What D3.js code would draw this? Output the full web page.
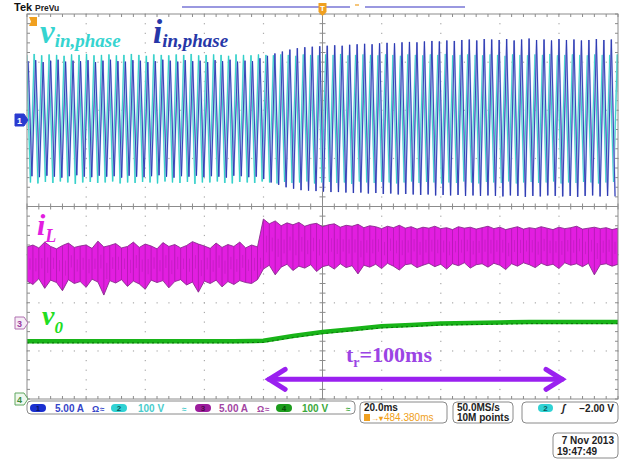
<!DOCTYPE html>
<html><head><meta charset="utf-8">
<script src="https://cdn.jsdelivr.net/npm/d3@7"></script>
<style>html,body{margin:0;padding:0;background:#fff;}svg{display:block;}</style>
</head><body>
<svg id="c" width="628" height="462"></svg>
<script>
// ---------------- data ----------------
// time axis: 20 ms/div, 10 divisions; vertical in divisions (8 divs)
const timeDomain = [-100, 100];
const divDomain = [-4, 4];

// phase voltage / current: one upper and one lower peak per mains cycle (divisions)
const acStart = -99.6;   // ms, first upper peak
const acPeriod = 2.53;   // ms, apparent period on screen
const iInTop = [3.02,3.04,3.00,3.03,3.05,3.01,3.03,3.02,3.04,3.00,3.03,3.05,3.02,3.01,3.04,3.03,3.00,3.02,3.05,3.03,3.01,3.04,3.02,3.03,3.00,3.04,3.02,3.05,3.01,3.03,3.02,
  3.08,3.13,3.18,3.22,3.26,3.29,3.31,3.32,3.33,3.34,3.35,3.34,3.36,3.37,3.38,3.37,3.39,3.40,3.39,3.41,3.42,3.41,3.43,3.44,3.43,3.45,3.44,3.46,3.47,3.45,3.48,
  3.47,3.46,3.48,3.45,3.47,3.49,3.46,3.47,3.45,3.48,3.46,3.47,3.45,3.46,3.48,3.46,3.47];
const iInBot = [0.63,0.61,0.64,0.62,0.60,0.63,0.65,0.62,0.61,0.64,0.62,0.63,0.60,0.64,0.62,0.61,0.63,0.65,0.62,0.60,0.63,0.62,0.64,0.61,0.63,0.62,0.60,0.64,0.63,0.61,0.62,
  0.57,0.50,0.45,0.40,0.37,0.34,0.33,0.32,0.31,0.30,0.30,0.29,0.28,0.29,0.27,0.28,0.26,0.27,0.25,0.26,0.25,0.24,0.25,0.23,0.24,0.23,0.24,0.22,0.23,0.22,0.23,
  0.22,0.21,0.23,0.22,0.20,0.22,0.21,0.23,0.22,0.21,0.22,0.20,0.22,0.23,0.21,0.22,0.21];
const vInTop = [3.15,3.17,3.14,3.16,3.15,3.13,3.16,3.15,3.17,3.14,3.15,3.16,3.14,3.15,3.17,3.15,3.13,3.16,3.15,3.14,3.16,3.15,3.17,3.14,3.15,3.16,3.15,3.13,3.16,3.15,3.14,3.16,
  3.15,3.14,3.16,3.15,3.13,3.16,3.15,3.14,3.16,3.15,3.17,3.14,3.15,3.16,3.15,3.14,3.16,3.15,3.13,3.16,3.15,3.14,3.16,3.15,3.17,3.14,3.15,3.16,3.15,3.14,
  3.16,3.15,3.13,3.16,3.15,3.14,3.16,3.15,3.17,3.14,3.15,3.16,3.15,3.14,3.16,3.15,3.15,3.16];
const vInBot = [0.50,0.48,0.51,0.49,0.52,0.50,0.47,0.50,0.51,0.49,0.50,0.52,0.48,0.50,0.49,0.51,0.50,0.48,0.52,0.50,0.49,0.51,0.47,0.50,0.50,0.52,0.49,0.48,0.51,0.50,0.49,0.52,
  0.50,0.48,0.51,0.49,0.50,0.52,0.48,0.50,0.51,0.49,0.50,0.47,0.52,0.50,0.49,0.51,0.50,0.48,0.50,0.52,0.49,0.51,0.50,0.48,0.50,0.49,0.52,0.50,0.48,0.51,
  0.50,0.49,0.52,0.48,0.50,0.51,0.49,0.50,0.52,0.48,0.50,0.49,0.51,0.50,0.48,0.50,0.51,0.49];

// inductor current ripple band, sampled every 2 ms (divisions)
const iLTime = d3.range(-100, 100.001, 2);
const iLTop = [-0.84,-0.80,-0.86,-0.74,-0.83,-0.88,-0.81,-0.76,-0.85,-0.82,-0.80,-0.87,-0.72,-0.84,-0.81,-0.77,-0.86,-0.83,-0.74,-0.85,-0.78,-0.82,-0.88,-0.75,-0.83,-0.79,-0.86,-0.81,-0.73,-0.78,-0.82,-0.87,-0.76,-0.85,-0.79,-0.83,-0.74,-0.86,-0.80,-0.84,
  -0.26,-0.36,-0.30,-0.40,-0.34,-0.38,-0.33,-0.41,-0.37,-0.35,-0.42,-0.38,-0.36,-0.43,-0.39,-0.41,-0.37,-0.44,-0.40,-0.42,-0.46,-0.41,-0.44,-0.39,-0.45,-0.42,-0.47,-0.43,-0.45,-0.41,
  -0.46,-0.44,-0.48,-0.42,-0.45,-0.43,-0.47,-0.44,-0.41,-0.46,-0.43,-0.48,-0.45,-0.42,-0.47,-0.44,-0.46,-0.42,-0.45,-0.48,-0.43,-0.46,-0.44,-0.41,-0.47,-0.45,-0.43,-0.46,-0.44,-0.48,-0.45];
const iLBot = [-1.55,-1.62,-1.50,-1.70,-1.53,-1.58,-1.75,-1.52,-1.60,-1.56,-1.68,-1.51,-1.57,-1.84,-1.54,-1.59,-1.52,-1.66,-1.55,-1.61,-1.72,-1.53,-1.58,-1.54,-1.69,-1.56,-1.52,-1.63,-1.57,-1.78,-1.55,-1.60,-1.53,-1.67,-1.56,-1.62,-1.54,-1.58,-1.60,-1.52,
  -1.30,-1.22,-1.42,-1.26,-1.20,-1.33,-1.24,-1.28,-1.21,-1.35,-1.25,-1.22,-1.30,-1.19,-1.27,-1.23,-1.40,-1.22,-1.26,-1.20,-1.29,-1.18,-1.24,-1.32,-1.21,-1.19,-1.27,-1.22,-1.18,-1.25,
  -1.20,-1.30,-1.19,-1.23,-1.17,-1.28,-1.21,-1.19,-1.26,-1.18,-1.22,-1.31,-1.19,-1.24,-1.17,-1.21,-1.27,-1.18,-1.23,-1.20,-1.29,-1.17,-1.22,-1.19,-1.25,-1.18,-1.42,-1.21,-1.19,-1.24,-1.20];

// output voltage (divisions), every 10 ms
const voTime = d3.range(-100, 100.001, 10);
const vo = [-2.80,-2.80,-2.80,-2.80,-2.80,-2.80,-2.80,-2.80,-2.79,-2.69,-2.61,-2.55,-2.49,-2.46,-2.43,-2.42,-2.41,-2.40,-2.40,-2.40,-2.40];

// rise-time annotation (ms, divisions)
const trSpan = [-18.4, 81.4];
const trLevel = -3.59;

// status bar texts
const chanNames = ["1","2","3","4"];
const chanScales = ["5.00 A","100 V","5.00 A","100 V"];
const timebase = "20.0ms", trigPos = "484.380ms", sampleRate = "50.0MS/s", recordLen = "10M points";
const trigLevel = "\u22122.00 V", dateStr = "7 Nov 2013", timeStr = "19:47:49";

// ---------------- drawing ----------------
const svg = d3.select("#c");
const L = 27, R = 618, T = 14, B = 399;
const x = d3.scaleLinear().domain(timeDomain).range([L, R]);
const y = d3.scaleLinear().domain(divDomain).range([B, T]);

svg.append("defs").append("clipPath").attr("id","clip")
  .append("rect").attr("x",L).attr("y",T).attr("width",R-L).attr("height",B-T);

// graticule
const g = svg.append("g");
const majX = d3.range(-80, 81, 20).filter(v=>v!==0);
const majY = d3.range(-3, 3.01, 1).filter(v=>v!==0);
const dotX = d3.range(timeDomain[0], timeDomain[1]+0.01, 4);
const dotY = d3.range(-4, 4.001, 0.2);
majX.forEach(t => dotY.forEach(d => g.append("rect").attr("x", x(t)-0.5).attr("y", y(d)-0.5).attr("width",1.2).attr("height",1.2).attr("fill","#aaa")));
majY.forEach(d => dotX.forEach(t => g.append("rect").attr("x", x(t)-0.5).attr("y", y(d)-0.5).attr("width",1.2).attr("height",1.2).attr("fill","#aaa")));
g.append("line").attr("x1",L).attr("x2",R).attr("y1",y(0)).attr("y2",y(0)).attr("stroke","#8c8c8c");
g.append("line").attr("x1",x(0)).attr("x2",x(0)).attr("y1",T).attr("y2",B).attr("stroke","#8c8c8c");
dotX.forEach(t => {
  g.append("line").attr("x1",x(t)).attr("x2",x(t)).attr("y1",y(0)-3).attr("y2",y(0)+3).attr("stroke","#8c8c8c");
  g.append("line").attr("x1",x(t)).attr("x2",x(t)).attr("y1",T).attr("y2",T+3).attr("stroke","#8c8c8c");
  g.append("line").attr("x1",x(t)).attr("x2",x(t)).attr("y1",B-3).attr("y2",B).attr("stroke","#8c8c8c");
});
dotY.forEach(d => {
  g.append("line").attr("y1",y(d)).attr("y2",y(d)).attr("x1",x(0)-3).attr("x2",x(0)+3).attr("stroke","#8c8c8c");
  g.append("line").attr("y1",y(d)).attr("y2",y(d)).attr("x1",L).attr("x2",L+3).attr("stroke","#8c8c8c");
  g.append("line").attr("y1",y(d)).attr("y2",y(d)).attr("x1",R-3).attr("x2",R).attr("stroke","#8c8c8c");
});

const traces = svg.append("g").attr("clip-path","url(#clip)");
const line = d3.line().x(p=>x(p[0])).y(p=>y(p[1]));

function peaks(tops, bots, t0){
  const pts = [];
  tops.forEach((v,k) => { pts.push([t0 + k*acPeriod, v]); if (k < bots.length) pts.push([t0 + (k+0.5)*acPeriod, bots[k]]); });
  return pts;
}
// cyan v_in
const vPts = peaks(vInTop, vInBot, acStart - 0.5);
traces.append("path").attr("d", line(vPts)).attr("fill","none").attr("stroke","#9fe9e6").attr("stroke-width",1.8);
traces.append("path").attr("d", line(vPts)).attr("fill","none").attr("stroke","#2fcfc8").attr("stroke-width",0.9);
// blue i_in
const iPts = peaks(iInTop, iInBot, acStart);
traces.append("path").attr("d", line(iPts)).attr("fill","none").attr("stroke","#b4b9ec").attr("stroke-width",1.7);
traces.append("path").attr("d", line(iPts)).attr("fill","none").attr("stroke","#2a38b0").attr("stroke-width",0.9);

// magenta i_L band
const band = iLTime.map((t,i)=>({t, top:iLTop[i], bot:iLBot[i]}));
traces.append("path").datum(band)
  .attr("d", d3.area().x(d=>x(d.t)).y0(d=>y(d.bot)).y1(d=>y(d.top)))
  .attr("fill","#e21ee0");
traces.append("g").selectAll("line").data(band).join("line")
  .attr("x1",d=>x(d.t)).attr("x2",d=>x(d.t)).attr("y1",d=>y(d.top)).attr("y2",d=>y(d.bot))
  .attr("stroke","#6e1474").attr("stroke-width",0.8).attr("opacity",0.45);
traces.append("g").selectAll("line").data(band).join("line")
  .attr("x1",d=>x(d.t+1)).attr("x2",d=>x(d.t+1)).attr("y1",d=>y((d.top*2+d.bot)/3)).attr("y2",d=>y((d.top+d.bot*2)/3))
  .attr("stroke","#6e1474").attr("stroke-width",0.7).attr("opacity",0.3);
traces.append("path").attr("d", line(band.map(d=>[d.t,d.top]))).attr("fill","none").attr("stroke","#8a2a8e").attr("stroke-width",0.9);
traces.append("path").attr("d", line(band.map(d=>[d.t,d.bot]))).attr("fill","none").attr("stroke","#8a2a8e").attr("stroke-width",0.9);

// green v_o
const voPts = voTime.map((t,i)=>[t, vo[i]]);
traces.append("path").attr("d", line(voPts)).attr("fill","none").attr("stroke","#18b418").attr("stroke-width",4.5);
traces.append("path").attr("d", line(voPts)).attr("fill","none").attr("stroke","#0c6e0c").attr("stroke-width",1).attr("stroke-dasharray","2,3").attr("transform","translate(0,1.6)");

// plot border
svg.append("rect").attr("x",L).attr("y",T).attr("width",R-L).attr("height",B-T).attr("fill","none").attr("stroke","#8c8c8c");

// channel markers
function marker(yc, fill, stroke, txt, tcol){
  svg.append("path").attr("d",`M15,${yc-6} H24 L28,${yc} L24,${yc+6} H15 Z`).attr("fill",fill).attr("stroke",stroke).attr("stroke-width",1);
  svg.append("text").attr("x",19.5).attr("y",yc+3.5).attr("text-anchor","middle").attr("font-family","Liberation Sans").attr("font-size",9).attr("font-weight","bold").attr("fill",tcol).text(txt);
}
marker(120, "#2a3ad0", "#2a3ad0", "1", "#fff");
marker(323, "#f6ecf6", "#b070b0", "3", "#9a3aa0");
marker(399, "#eef8ee", "#60a860", "4", "#3a8a3a");
svg.append("path").attr("d","M29,17 H37 V26 H29 L31,21.5 Z").attr("fill","#f0a020");

// top record bar
svg.append("text").attr("x",14).attr("y",11).attr("font-family","Liberation Sans").attr("font-weight","bold").attr("font-size",11).attr("fill","#111").text("Tek");
svg.append("text").attr("x",35).attr("y",10.5).attr("font-family","Liberation Sans").attr("font-weight","bold").attr("font-size",8.5).attr("fill","#222").text("PreVu");
svg.append("line").attr("x1",182).attr("x2",350).attr("y1",7).attr("y2",7).attr("stroke","#9a98e0").attr("stroke-width",2);
svg.append("line").attr("x1",365).attr("x2",465).attr("y1",7).attr("y2",7).attr("stroke","#9a98e0").attr("stroke-width",2);
svg.append("line").attr("x1",355).attr("x2",359).attr("y1",5).attr("y2",5).attr("stroke","#f0a020").attr("stroke-width",1.2);
svg.append("path").attr("d",`M${x(0)-4},3 H${x(0)+4} V12 L${x(0)},16 L${x(0)-4},12 Z`).attr("fill","#f0a020");
svg.append("text").attr("x",x(0)).attr("y",11).attr("text-anchor","middle").attr("font-family","Liberation Sans").attr("font-weight","bold").attr("font-size",8).attr("fill","#fff").text("T");

// trace labels
function label(xp, yp, main, sub, size, subSize, subDy, col){
  const t = svg.append("text").attr("x",xp).attr("y",yp).attr("font-family","Liberation Serif").attr("font-style","italic").attr("font-weight","bold").attr("fill",col);
  t.append("tspan").attr("font-size",size).text(main);
  t.append("tspan").attr("font-size",subSize).attr("dy",subDy).text(sub);
}
label(40, 43, "v", "in,phase", 33, 19, 3.5, "#36d4d0");
label(153, 43, "i", "in,phase", 33, 19, 3.5, "#2637a8");
label(37, 235, "i", "L", 30, 18, 7, "#e21ee0");
label(42, 325, "v", "0", 28, 17, 8, "#22dd22");

// rise time annotation
const ay = y(trLevel), ax1 = x(trSpan[0]), ax2 = x(trSpan[1]);
const ann = svg.append("g").attr("stroke","#9a20f0").attr("stroke-width",5).attr("stroke-linecap","round").attr("fill","none");
ann.append("line").attr("x1",ax1+1).attr("x2",ax2-1).attr("y1",ay).attr("y2",ay);
ann.append("path").attr("d",`M${ax1+17},${ay-10} L${ax1+1},${ay} L${ax1+17},${ay+10}`);
ann.append("path").attr("d",`M${ax2-17},${ay-10} L${ax2-1},${ay} L${ax2-17},${ay+10}`);
const tt = svg.append("text").attr("x",346).attr("y",362).attr("font-family","Liberation Serif").attr("font-weight","bold").attr("fill","#9b44e4").attr("font-size",22);
tt.append("tspan").text("t");
tt.append("tspan").attr("font-size",14).attr("dy",5).text("r");
tt.append("tspan").attr("dy",-5).text("=100ms");

// status bar
const sb = svg.append("g").attr("font-family","Liberation Sans").attr("font-weight","bold").attr("font-size",10);
function box(x0,y0,w,h){ sb.append("rect").attr("x",x0).attr("y",y0).attr("width",w).attr("height",h).attr("rx",4).attr("fill","#fff").attr("stroke","#8a8a8a"); }
box(27,401,328,13);
function oval(cx, fill, txt, tcol){
  sb.append("rect").attr("x",cx-8).attr("y",404).attr("width",16).attr("height",8).attr("rx",4).attr("fill",fill);
  sb.append("text").attr("x",cx).attr("y",411.3).attr("text-anchor","middle").attr("font-size",8).attr("fill",tcol).text(txt);
}
const ovalX = [38, 119, 203, 284], scaleX = [55, 138, 219, 302];
const ovalFill = ["#1a2fd0","#30d2d4","#9c1c9c","#1c9c1c"], ovalText = ["#0a1466","#0a5a5a","#4a0a4a","#0a4a0a"];
const scaleCol = ["#3444c8","#48cccc","#a244a2","#3aa83a"];
chanNames.forEach((c,i)=>{
  oval(ovalX[i], ovalFill[i], c, ovalText[i]);
  sb.append("text").attr("x",scaleX[i]).attr("y",411.5).attr("fill",scaleCol[i]).text(chanScales[i]);
});
sb.append("text").attr("x",92).attr("y",411.5).attr("fill","#3444c8").attr("font-size",9).text("\u03A9");
sb.append("text").attr("x",100).attr("y",411.5).attr("fill","#3444c8").attr("font-size",8).text("\u2248");
sb.append("text").attr("x",182).attr("y",411.5).attr("fill","#48cccc").attr("font-size",8).text("\u2248");
sb.append("text").attr("x",257).attr("y",411.5).attr("fill","#a244a2").attr("font-size",9).text("\u03A9");
sb.append("text").attr("x",265).attr("y",411.5).attr("fill","#a244a2").attr("font-size",8).text("\u2248");
sb.append("text").attr("x",346).attr("y",411.5).attr("fill","#3aa83a").attr("font-size",8).text("\u2248");

box(360,402,87,21);
sb.append("text").attr("x",364).attr("y",411).attr("fill","#222").text(timebase);
sb.append("rect").attr("x",364).attr("y",414).attr("width",6).attr("height",7).attr("fill","#f0a020");
sb.append("text").attr("x",371).attr("y",421).attr("fill","#f0a020").attr("font-size",8).text("\u2192\u25BE");
sb.append("text").attr("x",384).attr("y",421).attr("fill","#f0a020").attr("font-weight","normal").text(trigPos);

box(453,402,60,21);
sb.append("text").attr("x",457).attr("y",411).attr("fill","#222").text(sampleRate);
sb.append("text").attr("x",457).attr("y",421).attr("fill","#222").text(recordLen);

box(522,402,96,21);
sb.append("rect").attr("x",538).attr("y",404).attr("width",15).attr("height",8).attr("rx",4).attr("fill","#30d2d4");
sb.append("text").attr("x",545.5).attr("y",411.3).attr("text-anchor","middle").attr("font-size",8).attr("fill","#0a5a5a").text("2");
sb.append("text").attr("x",562).attr("y",411.5).attr("fill","#222").attr("font-style","italic").text("\u0283");
sb.append("text").attr("x",614).attr("y",411.5).attr("text-anchor","end").attr("fill","#222").text(trigLevel);

box(553,433,65,25);
sb.append("text").attr("x",614).attr("y",444).attr("text-anchor","end").attr("fill","#222").text(dateStr);
sb.append("text").attr("x",557).attr("y",455).attr("fill","#222").text(timeStr);
</script>
</body></html>
